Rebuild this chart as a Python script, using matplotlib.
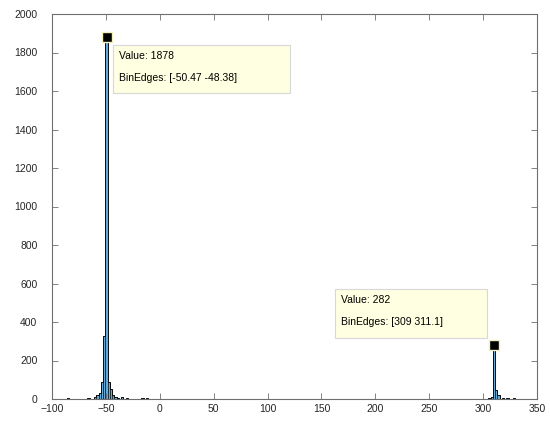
import numpy as np
import matplotlib
matplotlib.use("Agg")
import matplotlib.pyplot as plt
import matplotlib.transforms as mtransforms
from matplotlib.patches import Rectangle

plt.rcParams['font.family'] = ['Liberation Sans', 'DejaVu Sans']

# histogram bins (width taken from the bin edges of the peaks)
first_edge = -86.0
bin_width = (309.0 - (-50.47)) / 172
n_bins = 203

# non-empty bins: index -> count
bin_index = [0, 9, 12, 13, 14, 15, 16, 17, 18, 19, 20, 21, 22, 24, 26, 33, 35,
             187, 188, 189, 190, 191, 193, 195, 198]
bin_count = [6, 4, 8, 20, 33, 90, 329, 1878, 90, 52, 20, 12, 6, 8, 4, 5, 4,
             4, 8, 282, 45, 20, 5, 6, 3]

# data tips
tip_x = [-49.425, 310.05]
tip_y = [1878, 282]
tip_edges = ["[-50.47 -48.38]", "[309 311.1]"]

edges = first_edge + bin_width * np.arange(n_bins + 1)
counts = np.zeros(n_bins)
counts[bin_index] = bin_count
centers = (edges[:-1] + edges[1:]) / 2

fig = plt.figure(figsize=(5.5, 4.21), dpi=100)
ax = fig.add_axes([52 / 550, 22 / 421, 485 / 550, 385 / 421])

ax.hist(centers, bins=edges, weights=counts, color=(0, 0.447, 0.741),
        alpha=0.6, edgecolor='black', linewidth=0.6)
ax.hist(centers, bins=edges, weights=counts, histtype='step',
        color='black', linewidth=0.6)

ax.set_xlim(-100, 350)
ax.set_ylim(0, 2000)
ax.set_xticks(np.arange(-100, 351, 50))
ax.set_yticks(np.arange(0, 2001, 200))
ax.tick_params(direction='in', length=4, width=0.6, colors='#6e6e6e',
               labelcolor='#262626', labelsize=7.5, top=True, right=True)
ax.tick_params(axis='y', pad=10.5)
for s in ax.spines.values():
    s.set_color('#6e6e6e')
    s.set_linewidth(0.8)

# data tip markers and boxes (offsets and sizes in pixels)
box_offset = [(6, -56), (-159, 7)]
box_size = [(177, 48), (152, 49)]
ident = mtransforms.IdentityTransform()
fig.canvas.draw()
for x, y, e, (dx, dy), (bw, bh) in zip(tip_x, tip_y, tip_edges,
                                       box_offset, box_size):
    ax.plot(x, y, 's', ms=7.5, mfc='black', mec='#f5f0c0', mew=1.0,
            zorder=5, clip_on=False)
    px, py = ax.transData.transform((x, y))
    bx, by = px + dx, py + dy
    ax.add_artist(Rectangle((bx, by), bw, bh,
                            transform=ident, facecolor='#ffffe1',
                            edgecolor='#d8d8d8', linewidth=0.8, zorder=6))
    ax.text(bx + 6, by + bh - 11, "Value: %d" % y, transform=ident,
            fontsize=7.5, color='black', va='center', zorder=7)
    ax.text(bx + 6, by + bh - 33, "BinEdges: " + e, transform=ident,
            fontsize=7.5, color='black', va='center', zorder=7)

fig.savefig("out.png", dpi=100)
